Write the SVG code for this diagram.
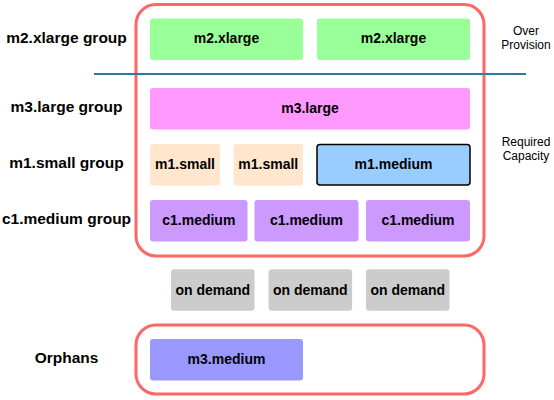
<svg xmlns="http://www.w3.org/2000/svg" width="554" height="400" viewBox="0 0 554 400">
<style>
.grp{fill:none;stroke:#FF6666;stroke-width:3}
.box{stroke:none}
.t{font-family:"Liberation Sans",Arial,sans-serif;font-weight:bold;font-size:14px;fill:#000;text-anchor:middle}
.lbl{font-family:"Liberation Sans",Arial,sans-serif;font-weight:bold;font-size:15.5px;fill:#000;text-anchor:middle}
.note{font-family:"Liberation Sans",Arial,sans-serif;font-size:12px;fill:#000;text-anchor:middle}
</style>
<rect width="554" height="400" fill="#fff"/>
<g id="main-group"><rect class="grp" x="136" y="4.5" width="348" height="251.5" rx="20"/></g>
<g id="orphans-group"><rect class="grp" x="136" y="325" width="348" height="69" rx="20"/></g>
<g id="connectors"><line x1="94" y1="74" x2="526" y2="74" stroke="#2D7B9E" stroke-width="2"/></g>
<g id="labels">
<text class="lbl" x="66.5" y="43">m2.xlarge group</text>
<text class="lbl" x="66.5" y="112">m3.large group</text>
<text class="lbl" x="66.5" y="167.5">m1.small group</text>
<text class="lbl" x="66.5" y="224">c1.medium group</text>
<text class="lbl" x="66.5" y="362.5">Orphans</text>
</g>
<g id="note-over"><text class="note" x="526" y="35">Over</text><text class="note" x="526" y="49">Provision</text></g>
<g id="note-required"><text class="note" x="526" y="146">Required</text><text class="note" x="526" y="160">Capacity</text></g>
<g id="m2xlarge-1"><rect class="box" x="150" y="18.5" width="153" height="41.5" rx="3" fill="#99FF99"/><text class="t" x="226.5" y="43">m2.xlarge</text></g>
<g id="m2xlarge-2"><rect class="box" x="317" y="18.5" width="153" height="41.5" rx="3" fill="#99FF99"/><text class="t" x="393.5" y="43">m2.xlarge</text></g>
<g id="m3large"><rect class="box" x="150" y="88" width="320" height="41.5" rx="3" fill="#FF99FF"/><text class="t" x="310" y="112.8">m3.large</text></g>
<g id="m1small-1"><rect class="box" x="150" y="144" width="70" height="41.5" rx="3" fill="#FFE6CC"/><text class="t" x="185" y="168.8">m1.small</text></g>
<g id="m1small-2"><rect class="box" x="233.5" y="144" width="69.5" height="41.5" rx="3" fill="#FFE6CC"/><text class="t" x="268.3" y="168.8">m1.small</text></g>
<g id="m1medium"><rect x="317" y="144.5" width="153" height="40.5" rx="3" fill="#99CCFF" stroke="#000" stroke-width="1.5"/><text class="t" x="393.5" y="168.8">m1.medium</text></g>
<g id="c1medium-1"><rect class="box" x="150" y="200" width="97.5" height="41.5" rx="3" fill="#CC99FF"/><text class="t" x="198.8" y="225">c1.medium</text></g>
<g id="c1medium-2"><rect class="box" x="254.5" y="200" width="104" height="41.5" rx="3" fill="#CC99FF"/><text class="t" x="306.5" y="225">c1.medium</text></g>
<g id="c1medium-3"><rect class="box" x="366" y="200" width="104" height="41.5" rx="3" fill="#CC99FF"/><text class="t" x="418" y="225">c1.medium</text></g>
<g id="ondemand-1"><rect class="box" x="171" y="269.3" width="83.5" height="41.5" rx="3" fill="#CCCCCC"/><text class="t" x="212.8" y="294.5">on demand</text></g>
<g id="ondemand-2"><rect class="box" x="268.6" y="269.3" width="83.5" height="41.5" rx="3" fill="#CCCCCC"/><text class="t" x="310.3" y="294.5">on demand</text></g>
<g id="ondemand-3"><rect class="box" x="366" y="269.3" width="83.5" height="41.5" rx="3" fill="#CCCCCC"/><text class="t" x="407.8" y="294.5">on demand</text></g>
<g id="m3medium"><rect class="box" x="150" y="339" width="153" height="41.5" rx="3" fill="#9999FF"/><text class="t" x="226.5" y="364">m3.medium</text></g>
</svg>
